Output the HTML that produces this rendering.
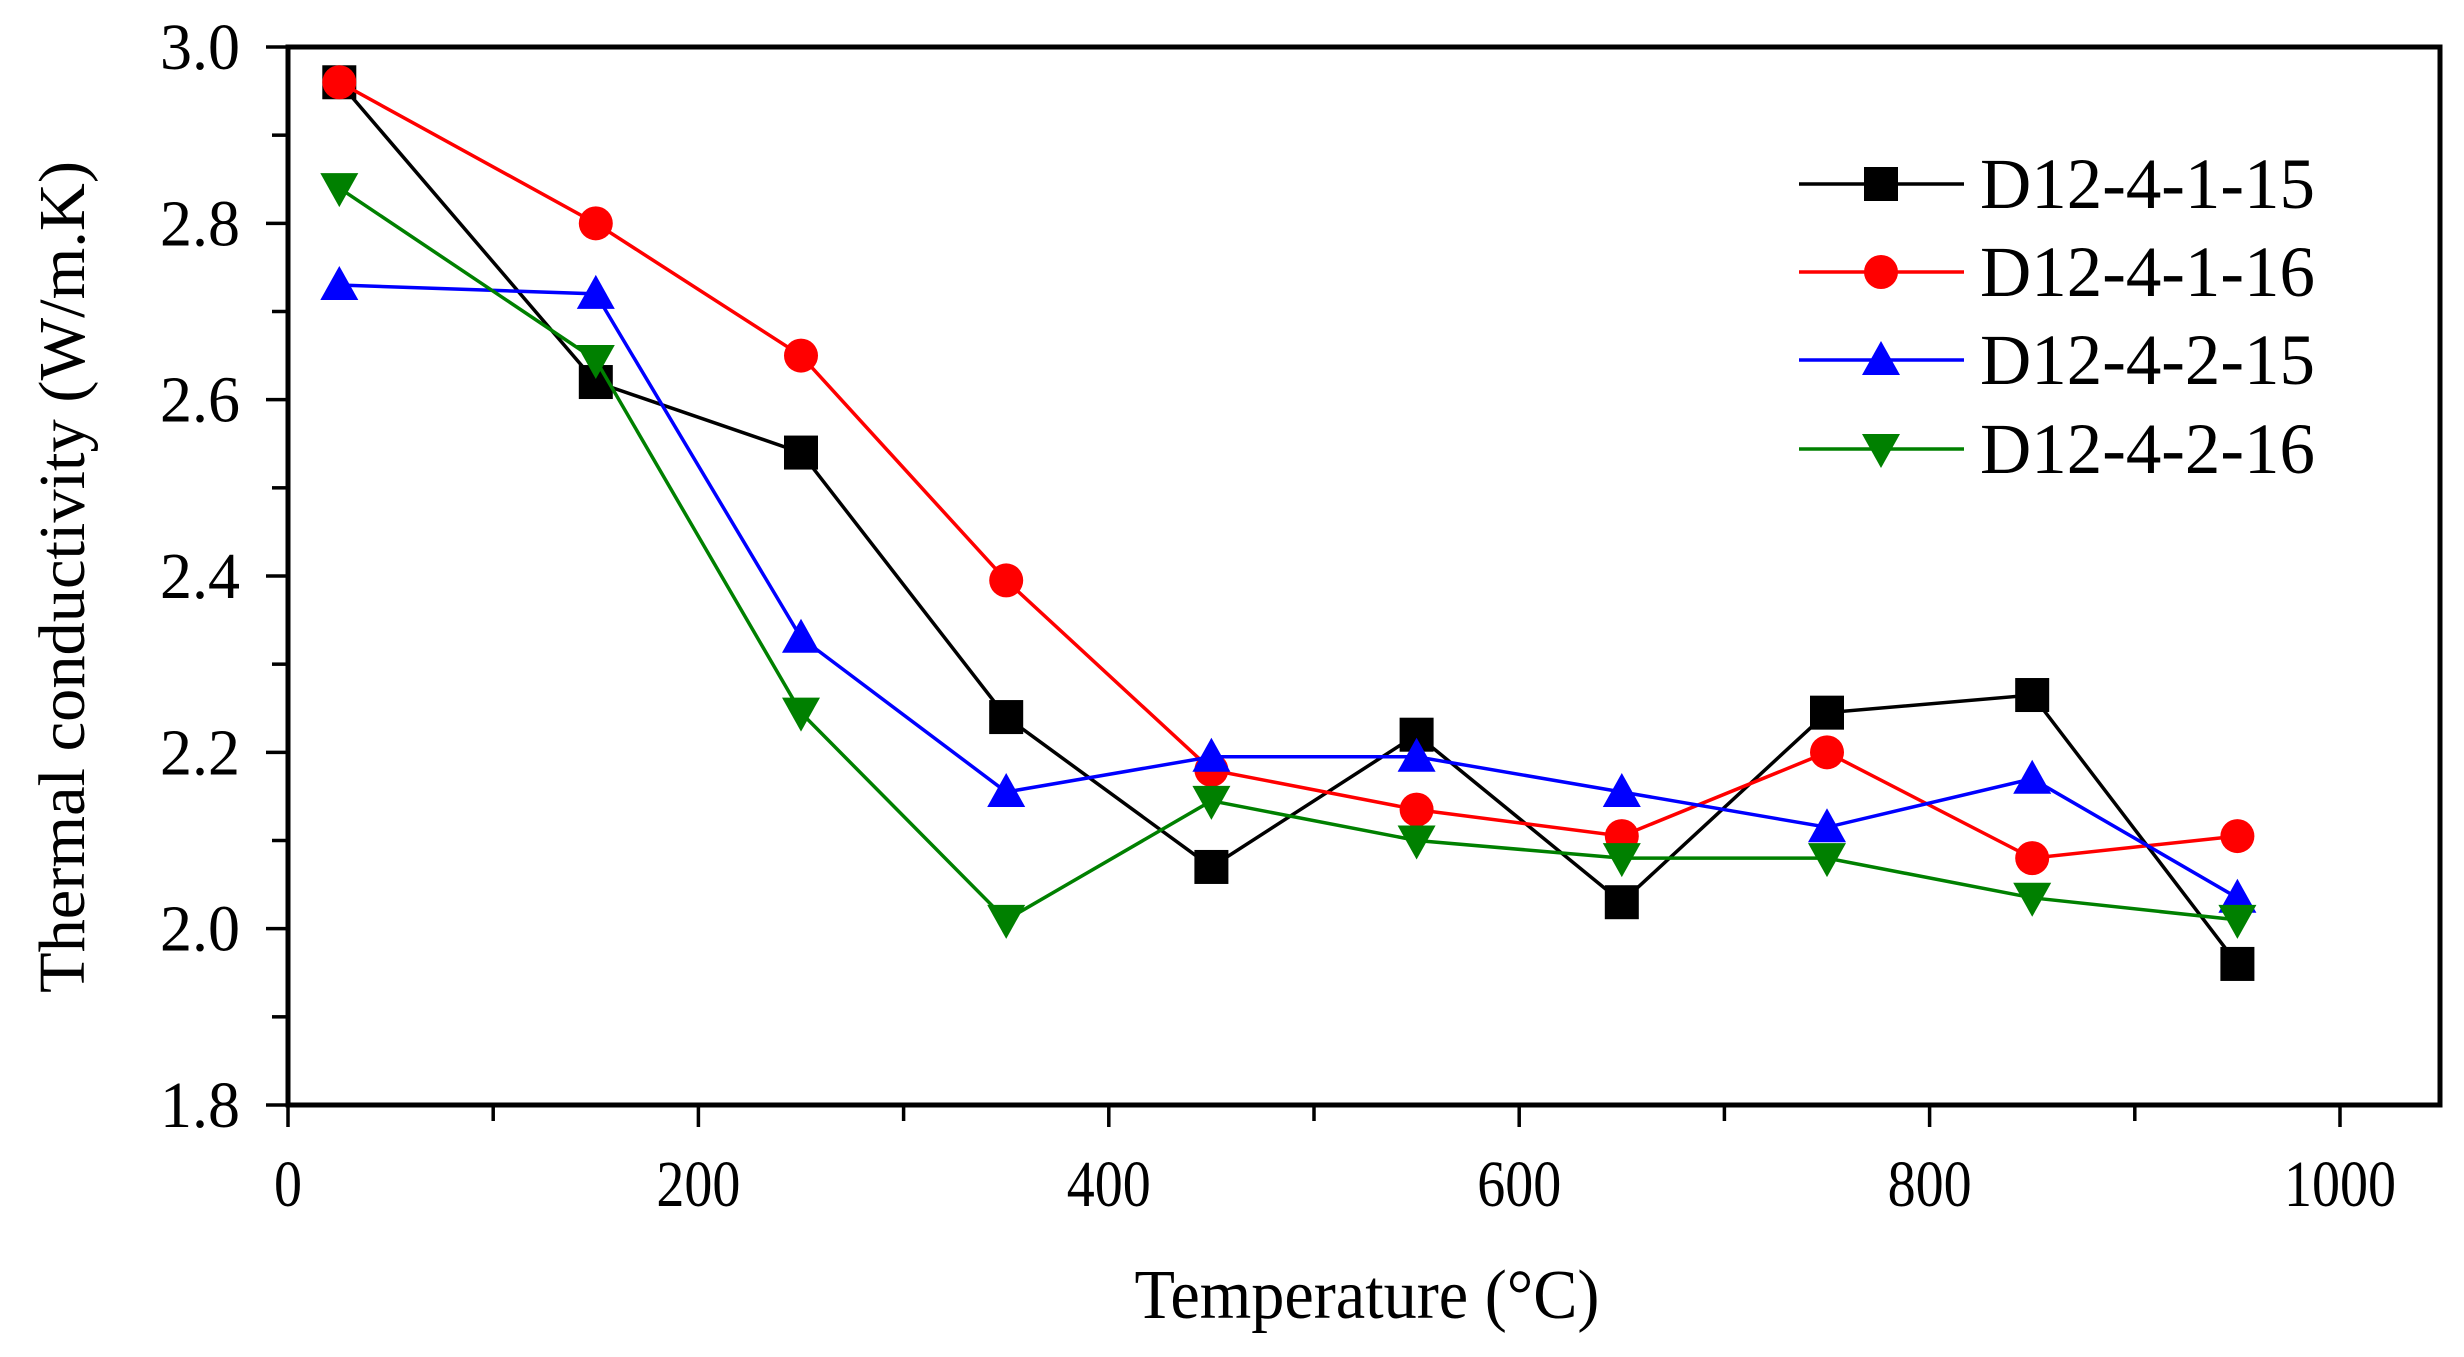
<!DOCTYPE html>
<html><head><meta charset="utf-8"><style>
html,body{margin:0;padding:0;background:#fff}
svg text{font-family:"Liberation Serif",serif;fill:#000}
</style></head><body>
<svg id="chart" width="2464" height="1352" viewBox="0 0 2464 1352" xmlns="http://www.w3.org/2000/svg"></svg>
<script>
const temps = [25,150,250,350,450,550,650,750,850,950];
const s1 = [2.96,2.62,2.54,2.24,2.07,2.22,2.03,2.245,2.265,1.96];
const s2 = [2.96,2.80,2.65,2.395,2.18,2.135,2.105,2.20,2.08,2.105];
const s3 = [2.73,2.72,2.33,2.155,2.195,2.195,2.155,2.115,2.17,2.035];
const s4 = [2.84,2.645,2.245,2.01,2.145,2.10,2.08,2.08,2.035,2.01];
const seriesNames = ["D12-4-1-15","D12-4-1-16","D12-4-2-15","D12-4-2-16"];
const xTicks = [0,200,400,600,800,1000];
const yTicks = [1.8,2.0,2.2,2.4,2.6,2.8,3.0];

const svg = document.getElementById('chart');
const NS = 'http://www.w3.org/2000/svg';
const L=288, R=2440, T=47, B=1105;
const X0=288, X1=2340;
function xs(v){return X0+(v-0)/1000*(X1-X0);}
function ys(v){return B-(v-1.8)/1.2*(B-T);}
function mk(tag,attrs,parent){const e=document.createElementNS(NS,tag);for(const k in attrs)e.setAttribute(k,attrs[k]);(parent||svg).appendChild(e);return e;}

const frame = mk('rect',{x:L,y:T,width:R-L,height:B-T,fill:'none',stroke:'#000','stroke-width':5});



for(let v=0;v<=1000;v+=100){
  const major = v%200===0;
  const t = mk('line',{x1:xs(v),x2:xs(v),y1:B,y2:B+(major?22:16),stroke:'#000','stroke-width':3.5});
  
  
}
xTicks.forEach(v=>{
  const t = mk('text',{x:xs(v),y:1206,'text-anchor':'middle','font-size':66,textLength:String(v).length*28,lengthAdjust:'spacingAndGlyphs'});
  t.textContent=v;
  
  
});
for(let i=0;i<=12;i++){
  const v=1.8+i*0.1; const major=i%2===0;
  const t = mk('line',{x1:L,x2:L-(major?22:16),y1:ys(v),y2:ys(v),stroke:'#000','stroke-width':3.5});
  
  
}
yTicks.forEach(v=>{
  const t = mk('text',{x:240,y:ys(v)+22,'text-anchor':'end','font-size':66,textLength:80,lengthAdjust:'spacingAndGlyphs'});
  t.textContent=v.toFixed(1);
  
  
});
const xt = mk('text',{x:1367,y:1318,'text-anchor':'middle','font-size':70,textLength:465,lengthAdjust:'spacingAndGlyphs'});
xt.textContent='Temperature (°C)';


const yt = mk('text',{x:0,y:0,'text-anchor':'middle','font-size':66,textLength:832,lengthAdjust:'spacingAndGlyphs',transform:'translate(84,577) rotate(-90)'});
yt.textContent='Thermal conductivity (W/m.K)';



function marker(type,cx,cy,color,g){
  let e;
  if(type==='square') e=mk('rect',{x:cx-17,y:cy-17,width:34,height:34,fill:color},g);
  else if(type==='circle') e=mk('circle',{cx:cx,cy:cy,r:17,fill:color},g);
  else if(type==='up') e=mk('polygon',{points:`${cx},${cy-19} ${cx-19},${cy+15} ${cx+19},${cy+15}`,fill:color},g);
  else e=mk('polygon',{points:`${cx},${cy+19} ${cx-19},${cy-15} ${cx+19},${cy-15}`,fill:color},g);
  return e;
}
const allSeries=[s1,s2,s3,s4];
const colors=['#000000','#ff0000','#0000ff','#008000'];
const shapes=['square','circle','up','down'];
const keys=['d12-4-1-15','d12-4-1-16','d12-4-2-15','d12-4-2-16'];
allSeries.forEach((s,i)=>{
  const g=mk('g',{});
  
  
  const pl=mk('polyline',{points:temps.map((t,j)=>xs(t)+','+ys(s[j])).join(' '),fill:'none',stroke:colors[i],'stroke-width':3.5},g);
  
  
  temps.forEach((t,j)=>{
    const m=marker(shapes[i],xs(t),ys(s[j]),colors[i],g);
    
    
  });
});
const lg=mk('g',{});


const rowsY=[184,272,360,449];
seriesNames.forEach((n,i)=>{
  const g=mk('g',{},lg);
  
  
  mk('line',{x1:1799,x2:1964,y1:rowsY[i],y2:rowsY[i],stroke:colors[i],'stroke-width':3.5},g);
  marker(shapes[i],1881,rowsY[i],colors[i],g);
  const t=mk('text',{x:1980,y:rowsY[i]+24,'font-size':72,textLength:335,lengthAdjust:'spacingAndGlyphs'},g);
  t.textContent=n;
  
  
});
</script>
</body></html>
